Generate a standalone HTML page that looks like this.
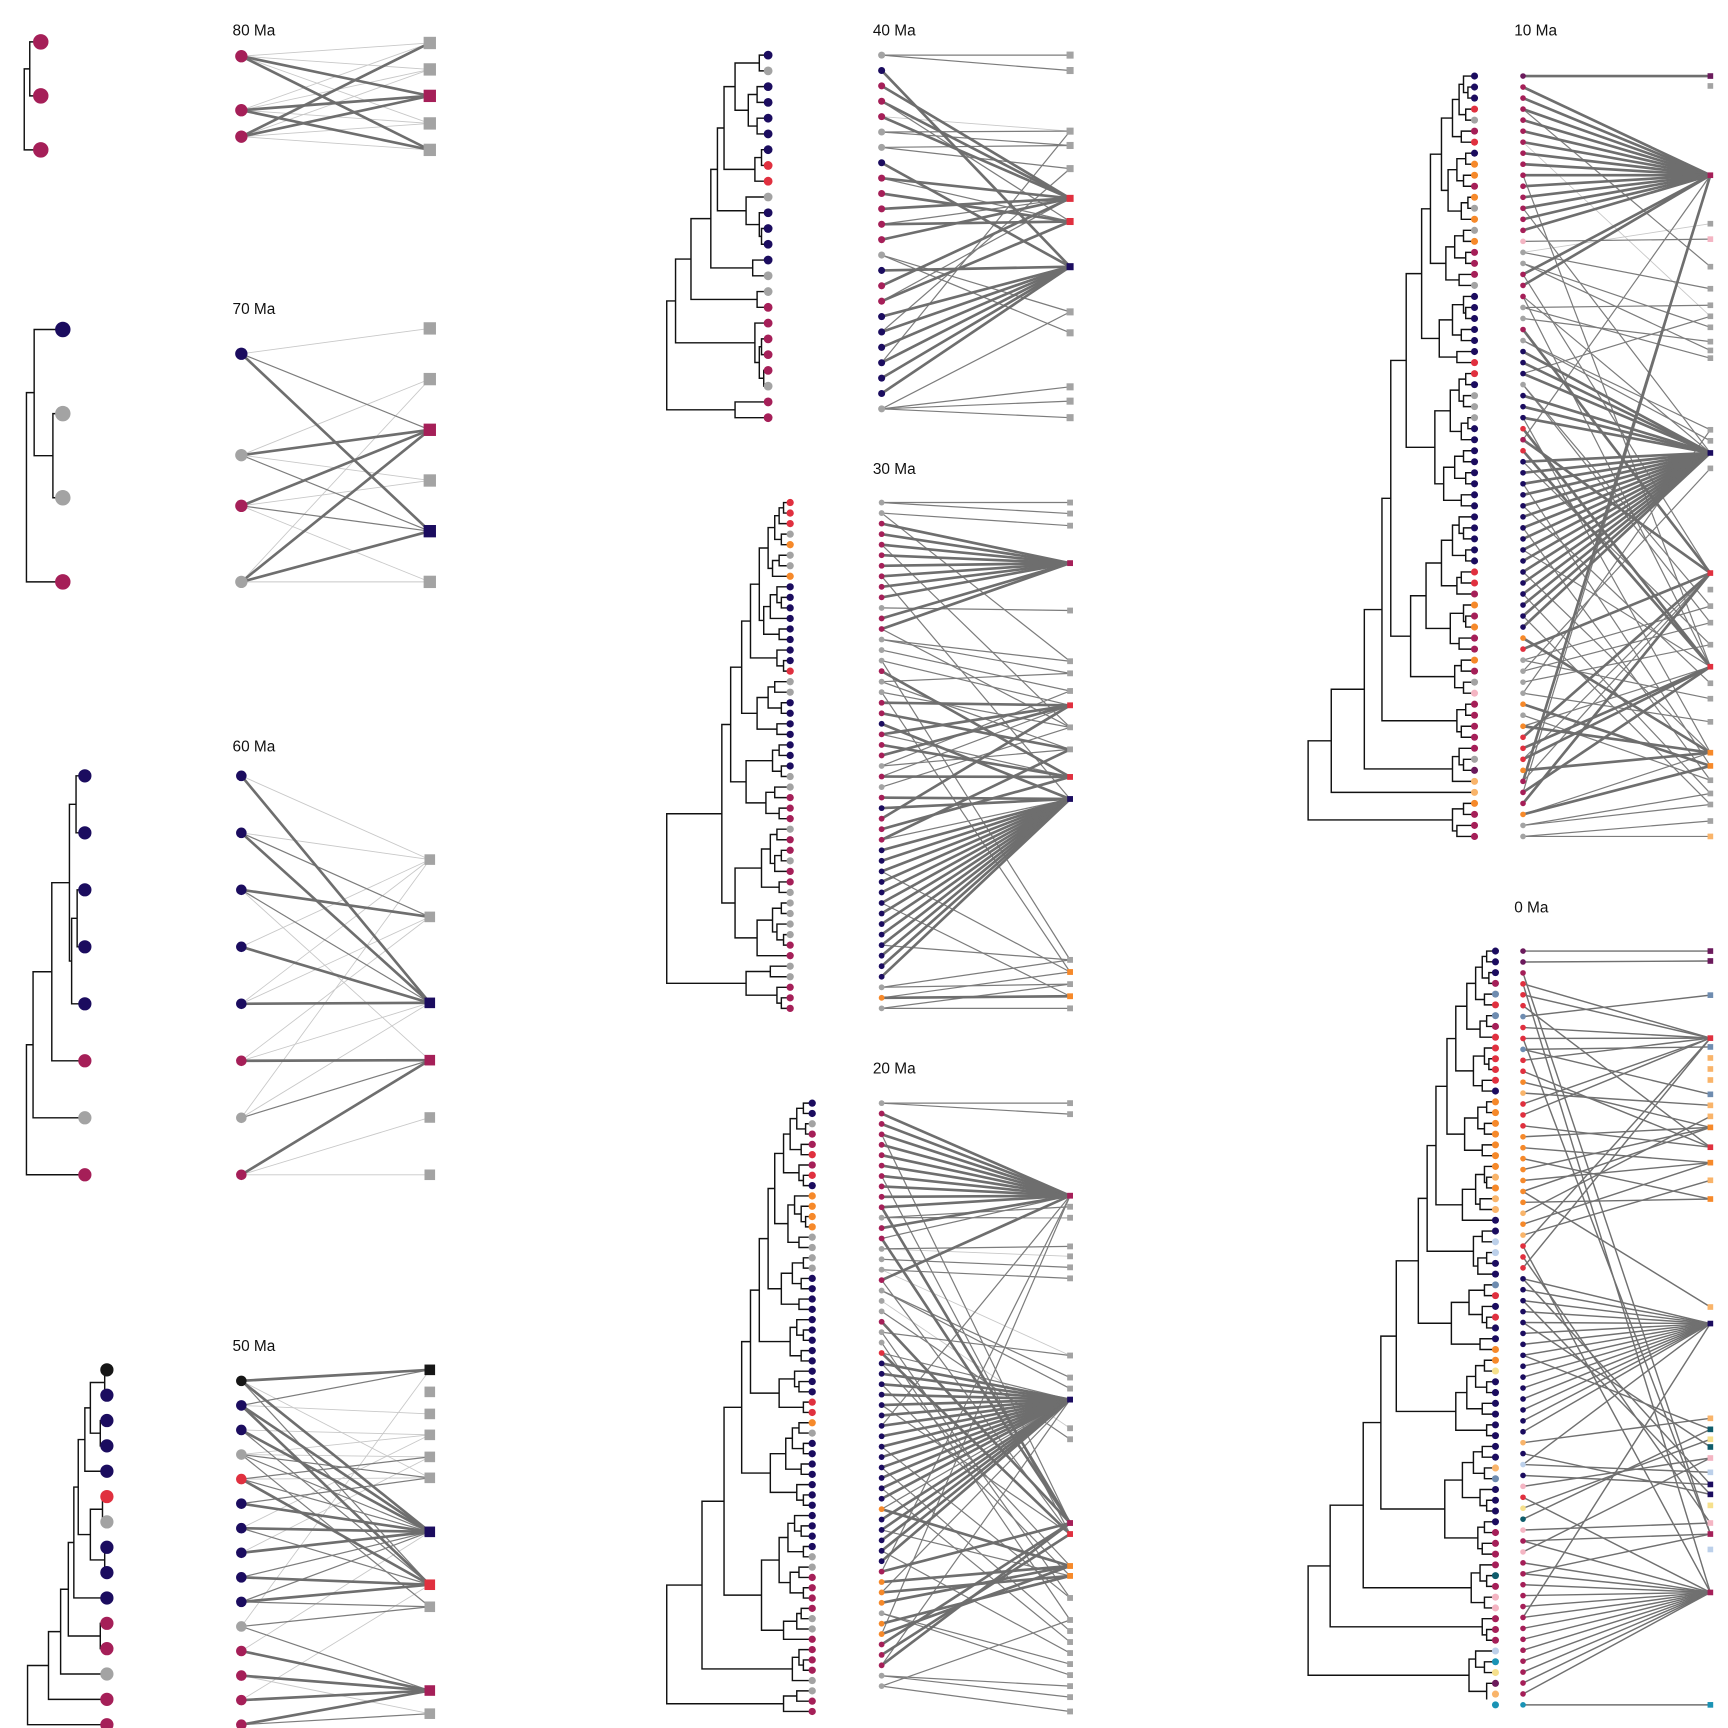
<!DOCTYPE html>
<html><head><meta charset="utf-8"><title>Phylogenetic bipartite networks through time</title>
<style>html,body{margin:0;padding:0;background:#fff}svg{display:block}text{font-family:"Liberation Sans",sans-serif}</style>
</head><body>
<svg id="chart" width="1728" height="1728" viewBox="0 0 1568 1568" xmlns="http://www.w3.org/2000/svg"></svg>
<script>
const COLORS={C:'#a51f58',N:'#1b0c5f',G:'#a3a3a3',R:'#e0303f',O:'#f6892a',K:'#161616',P:'#f4b5c3',L:'#bcd0ea',S:'#6e8cb0',T:'#0f5c6b',Y:'#1a93b5',W:'#f6e08c',A:'#f9b46a',U:'#6b1a5c'};
// ---- data arrays ----
const labels=['80 Ma','70 Ma','60 Ma','50 Ma','40 Ma','30 Ma','20 Ma','10 Ma','0 Ma'];
const tipsA='CCC', gapsA=[10,15], leftA='CCC', rightA='GGCGG';
const edgesA=['0l 1l 2h 3l 4h','0l 1l 2h 3l 4h','0h 1l 2h 3l 4l'];
const tipsB='NGGC', gapsB=[26,9,33], leftB='NGCG', rightB='GGCGNG';
const edgesB=['0l 2 4h','1l 2h 3l 4','2h 3l 4 5l','1l 2h 4h 5l'];
const tipsC='NNNNNCGC', gapsC=[8,14,7,12,30,47,53], leftC='NNNNNCGC', rightC='GGNCGG';
const edgesC=['0l 2h','0l 2h 1','2 1h 3l','2h 0l','2h 1l 0l','3h 2l 1l','3 2l 0l','3h 4l 5l'];
const tipsD='KNNNNRGNNNCCGCC', gapsD=[2,15,6,20,26,4,15,2,30,35,6,42,53,72], leftD='KNNGRNNNNNGCCCC', rightD='KGGGGGNRGCG';
const edgesD=['0h 6h 7 5l','0 6h 7h 2l','6h 3l 7','3l 4l 5 8 6','4 6 7h 5l','5 6h','6h 7 3l','6h 4l','7h 6','6 7h 8','8 9 0l','9h 6l','9h 10l','9h 7l','9h 10'];
const tipsE='NGNNNNNRRGNNNNGGCCCCCGCC', gapsE=[8,30,10,18,10,40,6,12,46,20,8,6,52,14,70,10,84,12,6,8,4,92,30];
const leftE='GNCCCGGNCCCCCGNCCNNNNNNG', rightE='GGGGGRRNGGGGG';
const edgesE=['0 1','7h','5h','5h 6','5h 2l','2 3','3 4','7h','5h 6','6h','5h','5 6h','5h','8 9','7h','5h','6h 5','7h','7h 4','7h','7h 2','7h','7h','10 11 12 8'];
const tipsF='RRRGOGGONNNNNNNNRGGNNNNNNNGGCCCGCCGCCGGGGGCCGGCCC';
const gapsF=[6,10,14,8,20,10,16,28,12,8,18,24,10,36,12,6,44,14,20,8,30,12,54,10,16,8,40,14,22,10,62,12,18,8,14,26,10,50,8,16,12,6,30,112,18,40,12,8];
const leftF='GGCCCCCCCCGCCGGGCGGCCNCCCGCGCNCCCNNNNNNNNNNNNNGOG', rightF='GGGCGGGGRGGRNGOGOG';
const edgesF=['0 1','2 5','3h','3h','3h 9','3h','3h','3h 12','3h','3h','4','3h','3h 9','5 6','7','8 13','11h','6 10','9 14','8h','10h','12h','8h 11','11h','8h','10 7','11h 8','9','12h','12h','8h','11h','10h 12','12h','12h','12h 14','12h','12h','12h 16','12h','12h','12h','12h 13','12h','12h','12h','13 15','16h 14','17 15'];
const tipsG='NNGCCRCRNOOOOGGGGNNNNNNNNNNNNRROGNNNNNNNNNNNGGCCCCGGCCCCGGCC';
const gapsG=[8,14,6,20,10,26,12,8,34,16,10,6,22,12,40,8,18,10,28,12,48,14,8,20,10,56,16,12,30,8,64,12,18,8,24,10,38,14,8,80,16,10,22,8,30,12,20,8,46,10,14,26,100,12,8,18,132,14,26];
const leftG='GCCCCCCCCCCGCCGGGCGGGCGGRNNNNNNNNNNNNNNONNNNNCOOOGOOCCCGG', rightG='GGCGGGGGGGGGNGGCROOGGGGGGGGGG';
const rightGy=[1001,1011,1085,1095,1105,1131,1140,1150,1160,1230,1250,1260,1270,1296,1306,1382,1392,1421,1430,1450,1470,1480,1490,1500,1510,1520,1530,1540,1553];
const edgesG=['0 1','2h','2h','2h 15','2h','2h','2h','2h 16','2h','2h','2h 15h','3 4','2h','15h 2','5 6l','7','8 9l','2h 16','10 11','13l','14','15h','9 19','20','16h 12','12h 17','12h','12h 18','12h','12h 16','12h','12h 2','12h','12h 19','12h','12h 21','12h','12h 22','12h','17h 12','12h','12h 18','12h','12h 23','12h','15h 2','17h','18h 12','17h','24 25','18h','17h 2','15h','16h','15h 12','26 27','28 20'];
const tipsH='NNNRGCRNOOCOGOGOCCCGNNNNNNRRNGGGNNNNNNNNNNNNNRRCOCOCCOCGPCCCCCGUAAOCCC';
const gapsH=[10,6,14,8,20,12,30,8,16,10,24,6,12,40,10,18,8,26,14,48,10,8,20,12,32,16,62,8,14,10,22,6,12,36,10,18,8,28,12,76,14,10,20,8,30,12,16,44,10,8,22,14,58,12,18,10,84,8,16,12,100,14,10,20,130,151,10,20,16];
const leftH='UCCCCCCCCCCCCCCPGGCCCGGCGNNNGNNNRCRNNNNNNNNNNNNNNNNORGGGGOGORRROCCCOGG', rightH='UGCGPGGGGGGGGGGNGRGGGGRGGGOOGGGGA';
const rightHy=[69,78,159,203,217,242,262,277,287,297,310,318,325,390,400,411,425,520,535,550,565,585,605,620,634,655,683,695,708,720,730,745,759];
const edgesH=['0h','2h','2h','2h 5','2h','2h','2h 8l','2h','2h','2h 22','2h','2h','2h 15','2h','2h','4','6 3l','9 11','2h 17','2h','15 22','7 12','10','17h','13 14','15h','15h','15h 8','19 20','15h','15h','15h 26','22h','2 17h','22h','15h 21','15h','15h 27','15h','15h 23','15h','15h 28','15h','15h 22','15h','15h 26','15h','15h 29','15h','15h 30','15h','26h','17h','19 24','20 16','21','25 13','27h','28','26h 22','17h','22h','17 22h','26h','2h 17','22h 2','17h','27h 26','29 30','31 32'];
const tipsI='NNNCSRSCRRRRRNOOOOOOOAOAANNLLNNSRNRNNOOWNNNNNNNNASNNNNCCCCTCPPCCCLYWUAY';
const gapsI=[8,12,6,18,10,26,8,14,36,10,6,20,12,44,8,16,10,28,12,54,10,8,18,14,30,62,12,20,8,16,70,10,24,12,8,40,14,90,10,18,8,26,12,36,8,104,12,20,10,30,14,8,46,10,16,12,120,14,8,22,10,150,12,8,170,18,10,24,8];
const leftI='UUCRRRSRRSRROARRROOOOOOOAOARRRNNNNNNNNNNNNNNNANLNPRWTPCPCCCCCCCCCCCCCY', rightI='UUSRSAAASAAOROAOANATWTPLNNWPCLCY';
const rightIy=[863,872,903,942,950,960,970,980,993,1003,1013,1023,1041,1055,1071,1088,1186,1201,1287,1297,1306,1313,1323,1336,1347,1356,1366,1382,1392,1406,1445,1547];
const edgesI=['0','1','28','3 30','3','12','2','3','3 28','4 8','3','12','11','9','3','3','12','11','13','15','11','13','11 16','15','10','13','14','3 30','27','3','17 24','17','17 25','17','17 21','17','17','17 19','17','17','17','17','17','17','17','18','25','23 17','24','22','30','20','19','27','28 30','22','30','30 28','30','30','30','30 17','30','30','30','30','30','30','30','31'];
// ---- layout ----
const panels=[
 {tips:tipsA,gaps:gapsA,left:leftA,right:rightA,edges:edgesA,tx:37,ty:[38,136],lx:219,ly:[51,100,124],rx:390,ry:[39,63,87,112,136],r:7,lab:[211,32]},
 {tips:tipsB,gaps:gapsB,left:leftB,right:rightB,edges:edgesB,tx:57,ty:[299,528],lx:219,ly:[321,413,459,528],rx:390,ry:[298,344,390,436,482,528],r:7,lab:[211,285]},
 {tips:tipsC,gaps:gapsC,left:leftC,right:rightC,edges:edgesC,tx:77,ty:[704,1066],lx:219,ly:[704,1066],rx:390,ry:[780,832,910,962,1014,1066],r:6,lab:[211,682]},
 {tips:tipsD,gaps:gapsD,left:leftD,right:rightD,edges:edgesD,tx:97,ty:[1243,1565],lx:219,ly:[1253,1565],rx:390,ry:[1243,1263,1283,1302,1322,1341,1390,1438,1458,1534,1555],r:6,lab:[211,1226]},
 {tips:tipsE,gaps:gapsE,left:leftE,right:rightE,edges:edgesE,tx:697,ty:[50,379],lx:800,ly:[50,371],rx:971,ry:[50,64,119,132,153,180,201,242,283,302,351,364,379],r:4,lab:[792,32]},
 {tips:tipsF,gaps:gapsF,left:leftF,right:rightF,edges:edgesF,tx:717,ty:[456,915],lx:800,ly:[456,915],rx:971,ry:[456,466,477,511,554,600,611,627,640,660,680,705,725,871,882,893,904,915],r:3.3,lab:[792,430]},
 {tips:tipsG,gaps:gapsG,left:leftG,right:rightG,edges:edgesG,tx:737,ty:[1001,1553],lx:800,ly:[1001,1530],rx:971,ry:rightGy,r:3.3,lab:[792,974]},
 {tips:tipsH,gaps:gapsH,left:leftH,right:rightH,edges:edgesH,tx:1338,ty:[69,759],lx:1382,ly:[69,759],rx:1552,ry:rightHy,r:3.2,lab:[1374,32]},
 {tips:tipsI,gaps:gapsI,left:leftI,right:rightI,edges:edgesI,tx:1357,ty:[863,1547],lx:1382,ly:[863,1547],rx:1552,ry:rightIy,r:3.2,lab:[1374,828],uniform:true}
];
const NS='http://www.w3.org/2000/svg';
const svg=document.getElementById('chart');
function mk(tag,attrs,parent){const e=document.createElementNS(NS,tag);for(const k in attrs)e.setAttribute(k,attrs[k]);(parent||svg).appendChild(e);return e;}
function spread(n,r){if(r.length===n)return r;const out=[];for(let i=0;i<n;i++)out.push(n===1?r[0]:r[0]+(r[r.length-1]-r[0])*i/(n-1));return out;}
panels.forEach((p,pi)=>{
 const g=mk('g',{});
 
 
 const t=mk('text',{x:p.lab[0],y:p.lab[1],'font-size':14,fill:'#111'},g);t.textContent=labels[pi];
 
 
 const tipY=spread(p.tips.length,p.ty);
 const tree=mk('g',{stroke:'#111','stroke-width':1.3,fill:'none'},g);
 
 
 function build(lo,hi){
  if(lo===hi)return{x:p.tx,y:tipY[lo]};
  let k=lo;for(let i=lo;i<hi;i++)if(p.gaps[i]>p.gaps[k])k=i;
  const a=build(lo,k),b=build(k+1,hi);const x=p.tx-p.gaps[k];
  mk('path',{d:`M${a.x},${a.y}H${x}V${b.y}H${b.x}`},tree);
  return{x:x,y:(a.y+b.y)/2};
 }
 build(0,p.tips.length-1);
 const ly=spread(p.left.length,p.ly);const ry=p.ry;
 const eg=mk('g',{fill:'none'},g);
 
 
 const layers={l:[],m:[],h:[]};
 p.edges.forEach((s,i)=>{if(i>=ly.length)return;s.split(' ').forEach(tok=>{const w=/h$/.test(tok)?'h':/l$/.test(tok)?'l':'m';const j=parseInt(tok);if(j<ry.length)layers[w].push([i,j]);});});
 const sty=p.uniform?{l:['#707070',1.3],m:['#707070',1.3],h:['#707070',1.3]}:{l:['#c8c8c8',0.8],m:['#7c7c7c',1.1],h:['#6e6e6e',2.4]};
 ['l','m','h'].forEach(w=>layers[w].forEach(([i,j])=>{const ln=mk('line',{x1:p.lx,y1:ly[i],x2:p.rx,y2:ry[j],stroke:sty[w][0],'stroke-width':sty[w][1]},eg);
  
  }));
 [...p.tips].forEach((c,i)=>{const d=mk('circle',{cx:p.tx,cy:tipY[i],r:p.r,fill:COLORS[c]},g);
  
  });
 [...p.left].forEach((c,i)=>{const d=mk('circle',{cx:p.lx,cy:ly[i],r:p.r*0.8,fill:COLORS[c]},g);
  
  });
 const s=p.r*0.8;
 [...p.right].forEach((c,j)=>{if(j>=ry.length)return;const d=mk('rect',{x:p.rx-s,y:ry[j]-s,width:2*s,height:2*s,fill:COLORS[c]},g);
  
  });
});
</script>
</body></html>
